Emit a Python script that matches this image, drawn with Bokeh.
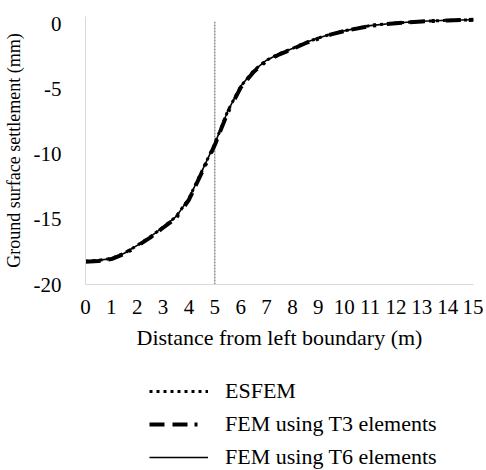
from bokeh.plotting import figure
from bokeh.models import Range1d, FixedTicker, Legend, LegendItem
from bokeh.layouts import column
from bokeh.embed import file_html
from bokeh.resources import INLINE

# Distance from left boundary (m)
distance = [0, 0.5, 1, 1.5, 2, 2.5, 3, 3.5, 4, 4.5, 5, 5.5, 6, 6.5, 7, 7.5, 8, 8.5, 9, 9.5, 10, 11, 12, 13, 14, 15]
# Ground surface settlement (mm)
esfem = [-18.2, -18.15, -18.0, -17.6, -17.0, -16.35, -15.6, -14.8, -13.4, -11.3, -9.2, -6.7, -4.8, -3.6, -2.8, -2.3, -1.9, -1.45, -1.1, -0.8, -0.55, -0.15, 0.05, 0.18, 0.26, 0.3]
fem_t3 = [-18.25, -18.2, -18.05, -17.65, -17.05, -16.4, -15.65, -14.9, -13.5, -11.4, -9.3, -6.8, -4.9, -3.7, -2.85, -2.35, -1.95, -1.5, -1.15, -0.82, -0.57, -0.17, 0.04, 0.17, 0.25, 0.3]
fem_t6 = [-18.2, -18.15, -18.0, -17.6, -17.0, -16.35, -15.6, -14.8, -13.4, -11.3, -9.2, -6.7, -4.8, -3.6, -2.8, -2.3, -1.9, -1.45, -1.1, -0.8, -0.55, -0.15, 0.05, 0.18, 0.26, 0.3]
x_ticks = list(range(0, 16))
y_ticks = [0, -5, -10, -15, -20]
y_tick_labels = ["0", "-5", "-10", "-15", "-20"]
marker_x = [5, 5]
marker_y = [-20, 0.15]
series_names = ["ESFEM", "FEM using T3 elements", "FEM using T6 elements"]

FONT = "Liberation Serif"

ES_STYLE = dict(line_color="black", line_width=3, line_dash="3 4")
T3_STYLE = dict(line_color="black", line_width=4, line_dash="15 8 15 7 3 11")
T6_STYLE = dict(line_color="black", line_width=1.6)

p = figure(frame_width=388, frame_height=268, output_backend="svg", toolbar_location=None,
           x_range=Range1d(0, 15), y_range=Range1d(-20, 0.55),
           min_border_left=78, min_border_right=10, min_border_top=16,
           min_border_bottom=70)
p.outline_line_color = None
p.xgrid.visible = False
p.ygrid.visible = False

for ax in (p.xaxis[0], p.yaxis[0]):
    ax.axis_line_color = "#d9d9d9"
    ax.axis_line_width = 1
    ax.major_tick_line_color = None
    ax.minor_tick_line_color = None
    ax.major_label_text_font = FONT
    ax.major_label_text_font_size = "21px"
    ax.major_label_text_color = "#000000"
    ax.axis_label_text_font = FONT
    ax.axis_label_text_font_style = "normal"
    ax.axis_label_text_color = "#000000"

p.xaxis.ticker = FixedTicker(ticks=x_ticks)
p.yaxis.ticker = FixedTicker(ticks=y_ticks)
p.yaxis.major_label_overrides = dict(zip(y_ticks, y_tick_labels))
p.xaxis.axis_label = "Distance from left boundary (m)"
p.yaxis.axis_label = "Ground surface settlement (mm)"
p.xaxis.axis_label_text_font_size = "22px"
p.yaxis.axis_label_text_font_size = "18px"
p.xaxis.major_label_standoff = 9
p.yaxis.major_label_standoff = 18
p.xaxis.axis_label_standoff = 8
p.yaxis.axis_label_standoff = 7

p.line(marker_x, marker_y, line_color="#595959", line_width=1, line_dash="2 1")

p.line(distance, esfem, **ES_STYLE)
p.line(distance, fem_t3, **T3_STYLE)
p.line(distance, fem_t6, **T6_STYLE)

# legend panel below the chart (its lines hold the same data, scrolled out of view)
lg = figure(frame_width=388, frame_height=116, output_backend="svg", toolbar_location=None,
            x_range=Range1d(100, 101), y_range=Range1d(100, 101),
            x_axis_location=None, y_axis_location=None,
            min_border_left=78, min_border_right=10, min_border_top=0, min_border_bottom=0)
lg.outline_line_color = None
lg.xgrid.visible = False
lg.ygrid.visible = False
l_es = lg.line(distance, esfem, **ES_STYLE)
l_t3 = lg.line(distance, fem_t3, **T3_STYLE)
l_t6 = lg.line(distance, fem_t6, **T6_STYLE)

legend = Legend(items=[
    LegendItem(label=series_names[0], renderers=[l_es]),
    LegendItem(label=series_names[1], renderers=[l_t3]),
    LegendItem(label=series_names[2], renderers=[l_t6]),
], orientation="vertical", location=(64, 0))
legend.border_line_color = None
legend.background_fill_alpha = 0
legend.label_text_font = FONT
legend.label_text_font_size = "22px"
legend.label_text_color = "#000000"
legend.glyph_width = 59
legend.glyph_height = 22
legend.label_height = 22
legend.label_standoff = 17
legend.spacing = 7
legend.padding = 0
legend.margin = 0
lg.add_layout(legend, "center")

layout = column(p, lg, spacing=0)
open("out.html", "w").write(file_html(layout, INLINE))
